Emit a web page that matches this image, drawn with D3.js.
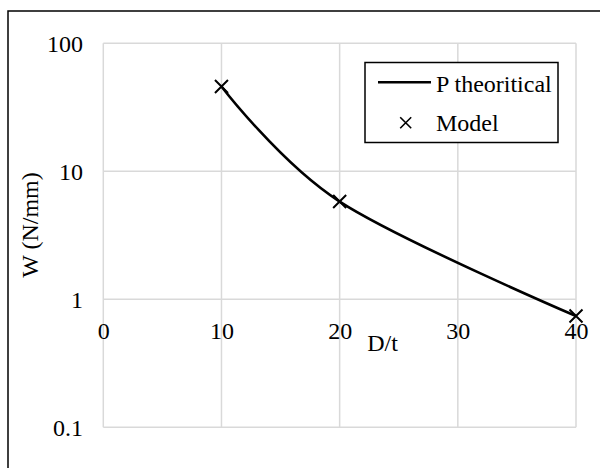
<!DOCTYPE html>
<html>
<head>
<meta charset="utf-8">
<script src="https://cdn.jsdelivr.net/npm/d3@7/dist/d3.min.js"></script>
<style>
  html, body { margin: 0; padding: 0; background: #fff; }
  svg { display: block; }
</style>
</head>
<body>
<svg id="chart" width="600" height="468"></svg>
<script>
// D/t values and loads W (N/mm)
const dt = [10, 20, 40];
const theoretical = [46, 5.8, 0.74];
const model = [46, 5.8, 0.74];

const xTicks = [0, 10, 20, 30, 40];
const yTicks = [0.1, 1, 10, 100];
const yTickLabels = ["0.1", "1", "10", "100"];

const seriesNames = ["P theoritical", "Model"];
const xTitle = "D/t";
const yTitle = "W (N/mm)";

const SERIF = "'Liberation Serif', 'Times New Roman', Times, serif";
const FONT = 24;

const svg = d3.select("#chart");
const plot = { left: 103.3, right: 576, top: 43.3, bottom: 427.3 };

const x = d3.scaleLinear().domain([0, 40]).range([plot.left, plot.right]);
const y = d3.scaleLog().domain([0.1, 100]).range([plot.bottom, plot.top]);

function serif(sel) {
  return sel.style("font-family", SERIF).style("font-size", FONT + "px").attr("fill", "#000");
}

// outer frame
svg.append("rect")
  .attr("x", 8).attr("y", 11)
  .attr("width", 620).attr("height", 480)
  .attr("fill", "none").attr("stroke", "#000").attr("stroke-width", 1.5);

// gridlines
const grid = svg.append("g").attr("stroke", "#d9d9d9").attr("stroke-width", 1.5);
grid.selectAll("line.v").data(xTicks).join("line").attr("class", "v")
  .attr("x1", d => x(d)).attr("x2", d => x(d))
  .attr("y1", plot.top).attr("y2", plot.bottom);
grid.selectAll("line.h").data(yTicks).join("line").attr("class", "h")
  .attr("x1", plot.left).attr("x2", plot.right)
  .attr("y1", d => y(d)).attr("y2", d => y(d));

// y axis labels
const yAxis = d3.axisLeft(y)
  .tickValues(yTicks)
  .tickFormat((d, i) => yTickLabels[i])
  .tickSize(0)
  .tickPadding(plot.left - 83);
const gy = svg.append("g").attr("transform", `translate(${plot.left},0)`).call(yAxis);
gy.select(".domain").remove();
gy.selectAll("text").call(serif).attr("dy", "0.35em");

// x axis labels, crossing at W = 1
const xAxis = d3.axisBottom(x)
  .tickValues(xTicks)
  .tickFormat(d3.format("d"))
  .tickSize(0)
  .tickPadding(22.7);
const gx = svg.append("g").attr("transform", `translate(0,${y(1)})`).call(xAxis);
gx.select(".domain").remove();
gx.selectAll("text").call(serif);

// axis titles
svg.append("text")
  .attr("x", 382.5).attr("y", 351)
  .attr("text-anchor", "middle")
  .call(serif)
  .text(xTitle);
svg.append("text")
  .attr("transform", "translate(37.5,225) rotate(-90)")
  .attr("text-anchor", "middle")
  .call(serif)
  .text(yTitle);

// smoothed theoretical curve
const line = d3.line()
  .x(d => x(d[0])).y(d => y(d[1]))
  .curve(d3.curveCardinal.tension(0));
svg.append("path")
  .datum(dt.map((d, i) => [d, theoretical[i]]))
  .attr("d", line)
  .attr("fill", "none").attr("stroke", "#000").attr("stroke-width", 2.6);

// model points as crosses
function cross(sel, s) {
  return sel.attr("d", `M${-s},${-s}L${s},${s}M${-s},${s}L${s},${-s}`);
}
svg.append("g").selectAll("path").data(dt.map((d, i) => [d, model[i]])).join("path")
  .attr("transform", d => `translate(${x(d[0])},${y(d[1])})`)
  .call(cross, 6.5)
  .attr("fill", "none").attr("stroke", "#000").attr("stroke-width", 2);

// legend
const lg = svg.append("g");
lg.append("rect")
  .attr("x", 365).attr("y", 62.5).attr("width", 193).attr("height", 80)
  .attr("fill", "#fff").attr("stroke", "#000").attr("stroke-width", 1.5);
lg.append("line")
  .attr("x1", 378).attr("x2", 431).attr("y1", 82.3).attr("y2", 82.3)
  .attr("stroke", "#000").attr("stroke-width", 2.6);
lg.append("path")
  .attr("transform", "translate(405.7,122.7)")
  .call(cross, 5.5)
  .attr("fill", "none").attr("stroke", "#000").attr("stroke-width", 1.6);
lg.selectAll("text").data(seriesNames).join("text")
  .attr("x", 436).attr("y", (d, i) => 91.7 + i * 39)
  .call(serif)
  .text(d => d);
</script>
</body>
</html>
